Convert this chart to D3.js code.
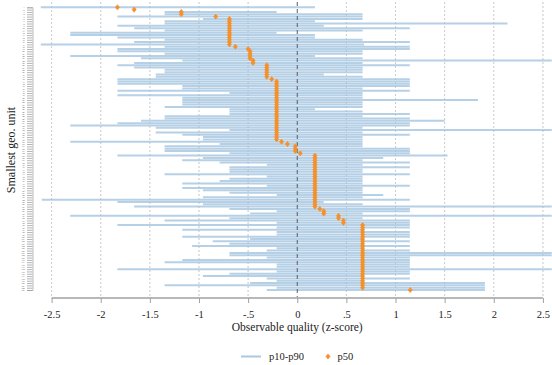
<!DOCTYPE html>
<html>
<head>
<meta charset="utf-8">
<script src="https://cdn.jsdelivr.net/npm/d3@7/dist/d3.min.js"></script>
<style>
  html, body { margin: 0; padding: 0; background: #fff; }
  svg { display: block; }
  text { font-family: "Liberation Serif", "DejaVu Serif", serif; fill: #222; }
</style>
</head>
<body>
<svg id="chart" width="552" height="365"></svg>
<script>
// ---- data ----
const p50Groups = [
  [-1.83, 1], [-1.66, 1], [-1.18, 2], [-0.83, 1], [-0.69, 12], [-0.63, 1], [-0.50, 1],
  [-0.48, 4], [-0.45, 2], [-0.31, 6], [-0.26, 1], [-0.21, 26], [-0.16, 1], [-0.10, 1],
  [-0.02, 3], [0.03, 1], [0.18, 23], [0.23, 1], [0.27, 2], [0.42, 2], [0.47, 2],
  [0.665, 28], [1.15, 1]
];
const p10 = [
  -2.61, -1.66, -1.35, -1.35, -1.83, -0.96, -1.35, -1.35, -1.83, -1.66,
  -1.35, -2.31, -2.31, -1.83, -1.35, -1.66, -2.61, -1.35, -1.83, -1.83,
  -1.35, -2.31, -1.59, -1.17, -1.66, -1.83, -1.66, -1.35, -1.35, -1.44,
  -1.44, -1.83, -1.83, -1.83, -1.17, -1.17, -1.83, -0.69, -1.83, -1.17,
  -1.17, -1.17, -1.17, -1.35, -0.69, -0.69, -0.69, -1.35, -1.35, -1.59,
  -1.83, -2.31, -1.44, -0.69, -1.44, -1.17, -0.96, -0.96, -2.31, -0.79,
  -1.35, -1.35, -1.35, -0.69, -1.83, -0.96, -1.17, -0.79, -0.31, -0.69,
  -0.69, -0.69, -1.35, -0.31, -0.69, -0.79, -1.17, -0.31, -1.17, -0.96,
  -0.69, -0.21, -0.96, -2.60, -1.83, -0.96, -1.66, -0.69, -0.21, -0.48,
  -2.31, -0.69, -1.35, -0.21, -1.83, -0.21, -1.17, -0.21, -0.21, -1.17,
  -0.48, -0.86, -0.69, -1.07, -0.21, -0.31, -0.69, -0.69, -0.31, -1.17,
  -1.35, -0.21, -0.21, -1.83, -0.21, -0.69, -0.96, -0.31, -0.21, -0.48,
  -1.35, -0.21, -0.31
];
const p90 = [
  0.18, -1.66, -0.21, 0.665, 0.665, 0.665, 0.18, 2.14, 0.27, 1.146,
  0.665, -0.21, 0.18, 0.18, 0.665, 1.146, 0.68, 1.146, 1.146, 0.665,
  0.665, 0.18, 0.665, 2.59, 0.665, 1.146, 0.665, 0.665, 0.665, 0.27,
  0.665, 1.146, 1.146, 1.146, 1.146, 0.665, 1.146, 0.665, 0.665, 0.665,
  1.84, 0.665, 0.665, 0.665, 0.18, 0.665, 1.146, 0.665, 1.146, 1.50,
  1.146, 1.146, 0.665, 2.59, 0.665, 1.146, 0.665, 0.665, 0.665, 0.665,
  0.665, 1.146, 1.146, 1.146, 1.53, 0.875, 0.665, 1.146, 0.665, 1.146,
  0.665, 0.665, 1.146, 0.665, 0.665, 0.665, 0.665, 1.146, 0.665, 0.665,
  0.665, 0.875, 0.665, 1.146, 0.27, 0.665, 2.59, 1.146, 1.146, 0.665,
  2.59, 0.665, 1.146, 1.146, 1.146, 1.146, 0.665, 1.146, 1.146, 1.146,
  0.665, 1.146, 0.665, 1.146, 0.665, 1.146, 2.59, 2.59, 1.146, 1.146,
  1.146, 1.146, 1.146, 2.59, 1.146, 1.146, 0.665, 1.146, 0.665, 1.91,
  1.91, 1.91, 1.91
];
const xTicks = [-2.5, -2, -1.5, -1, -0.5, 0, 0.5, 1, 1.5, 2, 2.5];
const xTickLabels = ["-2.5", "-2", "-1.5", "-1", "-.5", "0", ".5", "1", "1.5", "2", "2.5"];
const legendLabels = ["p10-p90", "p50"];
const xTitle = "Observable quality (z-score)";
const yTitle = "Smallest geo. unit";

// expand p50 groups to one value per unit
const p50 = [];
p50Groups.forEach(([v, n]) => { for (let i = 0; i < n; i++) p50.push(v); });
const units = p50.map((_, i) => String(i + 1));
const rows = units.map((u, i) => ({ unit: u, lo: p10[i], hi: p90[i], med: p50[i] }));

// ---- layout ----
const svg = d3.select("#chart");
const blue = "#a9c8e2";
const orange = "#f5902a";
const plotTop = 7.3, plotBottom = 290;
const x = d3.scaleLinear().domain([-2.5, 2.5]).range([51.6, 542.9]);
const y = d3.scalePoint().domain(units).range([plotTop, plotBottom]);

// gridlines
svg.append("g").selectAll("line").data(xTicks.filter(t => t !== 0)).join("line")
  .attr("x1", d => x(d)).attr("x2", d => x(d))
  .attr("y1", 2).attr("y2", 297)
  .attr("stroke", "#d9d9d9").attr("stroke-width", 1).attr("stroke-dasharray", "2,2");

// p10-p90 spikes
svg.append("g").selectAll("line").data(rows).join("line")
  .attr("x1", d => x(d.lo)).attr("x2", d => Math.max(x(d.hi), x(d.lo) + 0.01))
  .attr("y1", d => y(d.unit)).attr("y2", d => y(d.unit))
  .attr("stroke", blue).attr("stroke-width", 2).attr("stroke-opacity", 0.85);

// gridlines drawn faintly over the bars too
svg.append("g").selectAll("line").data(xTicks.filter(t => t !== 0)).join("line")
  .attr("x1", d => x(d)).attr("x2", d => x(d))
  .attr("y1", 2).attr("y2", 297)
  .attr("stroke", "#9fb6c9").attr("stroke-opacity", 0.3).attr("stroke-width", 1).attr("stroke-dasharray", "2,2");

// zero line
svg.append("line")
  .attr("x1", x(0)).attr("x2", x(0)).attr("y1", 2).attr("y2", 297)
  .attr("stroke", "#555e66").attr("stroke-width", 1).attr("stroke-dasharray", "4,3");

// p50 markers
const diamond = "M0,-2.6L2.1,0L0,2.6L-2.1,0Z";
svg.append("g").selectAll("path").data(rows).join("path")
  .attr("d", diamond)
  .attr("transform", d => `translate(${x(d.med)},${y(d.unit)})`)
  .attr("fill", orange).attr("stroke", orange).attr("stroke-width", 0.6);

// x axis
const xAxis = svg.append("g").attr("transform", "translate(0,298)")
  .call(d3.axisBottom(x).tickValues(xTicks).tickFormat((d, i) => xTickLabels[i]).tickSize(5).tickPadding(8));
xAxis.select(".domain").attr("stroke", "#a0a0a0").attr("stroke-width", 1.6).attr("d", `M${x(-2.5)},0H${x(2.5)}`);
xAxis.selectAll(".tick line").attr("stroke", "#a0a0a0").attr("stroke-width", 1);
xAxis.selectAll(".tick text").attr("font-size", 10.5).attr("font-family", "Liberation Serif, serif").attr("fill", "#222");

// y axis with tiny unit labels
const yAxis = svg.append("g").attr("transform", "translate(32.5,0)")
  .call(d3.axisLeft(y).tickSize(5.5).tickPadding(2.5));
yAxis.select(".domain").attr("stroke", "#b0b0b0").attr("stroke-width", 0.8);
yAxis.selectAll(".tick line").attr("stroke", "#a0a0a0").attr("stroke-width", 0.8);
yAxis.selectAll(".tick text").attr("font-size", 2).attr("font-family", "Liberation Serif, serif").attr("fill", "#888");

// titles
svg.append("text").attr("x", x(0)).attr("y", 331).attr("text-anchor", "middle")
  .attr("font-size", 11.5).text(xTitle);
svg.append("text").attr("transform", "translate(14.5,150) rotate(-90)").attr("text-anchor", "middle")
  .attr("font-size", 12).text(yTitle);

// legend
const lg = svg.append("g");
lg.append("line").attr("x1", 241).attr("x2", 261).attr("y1", 356.5).attr("y2", 356.5)
  .attr("stroke", blue).attr("stroke-width", 2);
lg.append("text").attr("x", 269).attr("y", 360).attr("font-size", 10.5).text(legendLabels[0]);
lg.append("path").attr("d", diamond).attr("transform", "translate(328,356.5)")
  .attr("fill", orange).attr("stroke", orange).attr("stroke-width", 0.6);
lg.append("text").attr("x", 337.5).attr("y", 360).attr("font-size", 10.5).text(legendLabels[1]);
</script>
</body>
</html>
